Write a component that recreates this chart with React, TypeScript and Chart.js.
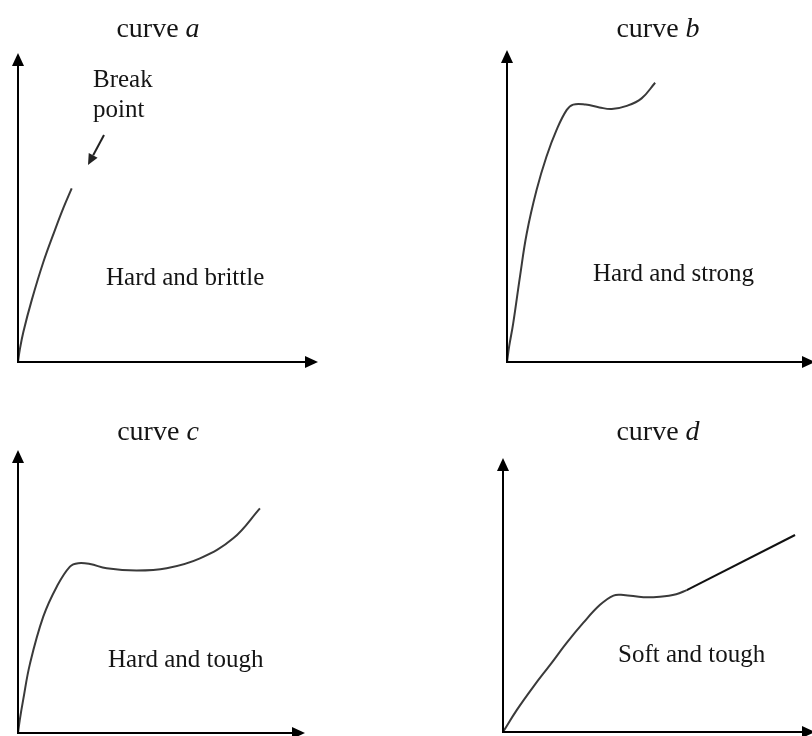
import React, { useEffect, useRef } from "react";
import { Chart, registerables } from "chart.js";

Chart.register(...registerables);

// ---- data (strain on x, stress on y, arbitrary units 0..100) ----
const strainA = [0, 0.6, 1.8, 4.6, 8.4, 12.3, 15.1, 17.9];
const stressA = [0, 4.0, 9.8, 20.1, 32.2, 42.7, 49.8, 56.2];

const strainB = [0, 0.7, 2.0, 4.2, 6.4, 9.6, 12.8, 16.1, 19.4, 21.5, 25.5, 30.0, 34.0, 38.9, 43.7, 48.1];
const stressB = [0, 5.0, 12.3, 27.3, 41.2, 55.1, 65.8, 74.4, 80.8, 82.5, 82.5, 81.6, 81.1, 82.1, 84.5, 89.5];

const strainC = [0, 0.6, 1.8, 4.2, 8.8, 13.5, 18.1, 21.0, 25.1, 30.9, 41.3, 51.8, 63.4, 75.0, 84.3];
const stressC = [0, 4.5, 11.7, 24.6, 41.1, 51.7, 58.8, 60.0, 59.7, 58.2, 57.4, 58.2, 61.7, 68.8, 79.4];

const strainD = [0, 4.4, 9.7, 15.1, 20.4, 25.7, 31.1, 35.4, 38.6, 45.0, 50.3, 55.5, 58.9];
const stressD = [0, 8.0, 16.5, 24.5, 32.5, 39.8, 46.4, 49.8, 50.0, 49.2, 49.4, 50.3, 51.8];
const strainD2 = [58.9, 93.6];
const stressD2 = [51.8, 71.9];

const titles = ["a", "b", "c", "d"];
const labels = ["Hard and brittle", "Hard and strong", "Hard and tough", "Soft and tough"];

const toXY = (xs: number[], ys: number[]) => xs.map((x, i) => ({ x, y: ys[i] }));

const CURVE = "#3a3a3a";
const TEXT = "#151515";
const SERIF = '"Liberation Serif", "Times New Roman", serif';

type PanelCfg = {
  left: number;
  top: number;
  w: number;
  h: number;
  pad: { left: number; right: number; top: number; bottom: number };
  title: string;
  titleX: number;
  titleY: number;
  label: string;
  labelX: number;
  labelY: number;
  datasets: any[];
  breakNote?: boolean;
};

const curveDs = (xs: number[], ys: number[], color = CURVE, straight = false) => ({
  data: toXY(xs, ys),
  borderColor: color,
  borderWidth: 2,
  pointRadius: 0,
  fill: false,
  tension: straight ? 0 : 0.4,
});

const panels: PanelCfg[] = [
  {
    left: 0, top: 0, w: 406, h: 368,
    pad: { left: 18, right: 88, top: 53, bottom: 6 },
    title: titles[0], titleX: 158, titleY: 37,
    label: labels[0], labelX: 106, labelY: 285,
    datasets: [curveDs(strainA, stressA)],
    breakNote: true,
  },
  {
    left: 406, top: 0, w: 412, h: 368,
    pad: { left: 101, right: 3, top: 50, bottom: 6 },
    title: titles[1], titleX: 252, titleY: 37,
    label: labels[1], labelX: 187, labelY: 281,
    datasets: [curveDs(strainB, stressB)],
  },
  {
    left: 0, top: 368, w: 406, h: 368,
    pad: { left: 18, right: 101, top: 82, bottom: 3 },
    title: titles[2], titleX: 158, titleY: 72,
    label: labels[2], labelX: 108, labelY: 299,
    datasets: [curveDs(strainC, stressC)],
  },
  {
    left: 406, top: 368, w: 412, h: 368,
    pad: { left: 97, right: 3, top: 90, bottom: 4 },
    title: titles[3], titleX: 252, titleY: 72,
    label: labels[3], labelX: 212, labelY: 294,
    datasets: [curveDs(strainD, stressD), curveDs(strainD2, stressD2, "#111111", true)],
  },
];

const decorPlugin = {
  id: "decor",
  afterDraw(chart: any, _args: any, opts: any) {
    const cfg: PanelCfg = opts.cfg;
    const ctx = chart.ctx;
    const xs = chart.scales.x;
    const ys = chart.scales.y;
    const ox = xs.getPixelForValue(0);
    const oy = ys.getPixelForValue(0);
    const xEnd = xs.getPixelForValue(100);
    const yEnd = ys.getPixelForValue(100);
    const head = 13;
    const half = 6;
    ctx.save();
    ctx.strokeStyle = "#000";
    ctx.fillStyle = "#000";
    ctx.lineWidth = 2;
    ctx.lineCap = "butt";
    // x axis
    ctx.beginPath();
    ctx.moveTo(ox - 1, oy);
    ctx.lineTo(xEnd - head + 1, oy);
    ctx.stroke();
    ctx.beginPath();
    ctx.moveTo(xEnd, oy);
    ctx.lineTo(xEnd - head, oy - half);
    ctx.lineTo(xEnd - head, oy + half);
    ctx.closePath();
    ctx.fill();
    // y axis
    ctx.beginPath();
    ctx.moveTo(ox, oy + 1);
    ctx.lineTo(ox, yEnd + head - 1);
    ctx.stroke();
    ctx.beginPath();
    ctx.moveTo(ox, yEnd);
    ctx.lineTo(ox - half, yEnd + head);
    ctx.lineTo(ox + half, yEnd + head);
    ctx.closePath();
    ctx.fill();

    // title: "curve " + italic letter
    ctx.fillStyle = TEXT;
    ctx.textBaseline = "alphabetic";
    ctx.textAlign = "left";
    const upFont = `28px ${SERIF}`;
    const itFont = `italic 28px ${SERIF}`;
    ctx.font = upFont;
    const w1 = ctx.measureText("curve ").width;
    ctx.font = itFont;
    const w2 = ctx.measureText(cfg.title).width;
    const start = cfg.titleX - (w1 + w2) / 2;
    ctx.font = upFont;
    ctx.fillText("curve ", start, cfg.titleY);
    ctx.font = itFont;
    ctx.fillText(cfg.title, start + w1, cfg.titleY);

    // label
    ctx.font = `25px ${SERIF}`;
    ctx.fillText(cfg.label, cfg.labelX, cfg.labelY);

    if (cfg.breakNote) {
      ctx.fillText("Break", 93, 87);
      ctx.fillText("point", 93, 117);
      // arrow pointing to break point
      const x1 = 104, y1 = 135, x2 = 88, y2 = 165;
      const ang = Math.atan2(y2 - y1, x2 - x1);
      const hl = 11, hw = 5;
      ctx.strokeStyle = "#222";
      ctx.fillStyle = "#222";
      ctx.lineWidth = 2;
      ctx.beginPath();
      ctx.moveTo(x1, y1);
      ctx.lineTo(x2 - hl * Math.cos(ang), y2 - hl * Math.sin(ang));
      ctx.stroke();
      ctx.beginPath();
      ctx.moveTo(x2, y2);
      ctx.lineTo(
        x2 - hl * Math.cos(ang) + hw * Math.sin(ang),
        y2 - hl * Math.sin(ang) - hw * Math.cos(ang)
      );
      ctx.lineTo(
        x2 - hl * Math.cos(ang) - hw * Math.sin(ang),
        y2 - hl * Math.sin(ang) + hw * Math.cos(ang)
      );
      ctx.closePath();
      ctx.fill();
    }
    ctx.restore();
  },
};

function Panel({ cfg }: { cfg: PanelCfg }) {
  const ref = useRef<HTMLCanvasElement | null>(null);
  useEffect(() => {
    if (!ref.current) return;
    const chart = new Chart(ref.current, {
      type: "line",
      data: { datasets: cfg.datasets },
      options: {
        responsive: false,
        animation: false,
        devicePixelRatio: 1,
        events: [],
        layout: { padding: cfg.pad },
        plugins: {
          legend: { display: false },
          tooltip: { enabled: false },
          decor: { cfg },
        } as any,
        scales: {
          x: { type: "linear", display: false, min: 0, max: 100 },
          y: { type: "linear", display: false, min: 0, max: 100 },
        },
      },
      plugins: [decorPlugin],
    });
    return () => chart.destroy();
  }, [cfg]);
  return (
    <canvas
      ref={ref}
      width={cfg.w}
      height={cfg.h}
      style={{ position: "absolute", left: cfg.left, top: cfg.top, width: cfg.w, height: cfg.h }}
    />
  );
}

export default function App() {
  return (
    <div
      style={{
        position: "fixed",
        left: 0,
        top: 0,
        width: 812,
        height: 736,
        overflow: "hidden",
        background: "#fff",
      }}
    >
      {panels.map((p, i) => (
        <Panel key={i} cfg={p} />
      ))}
    </div>
  );
}
